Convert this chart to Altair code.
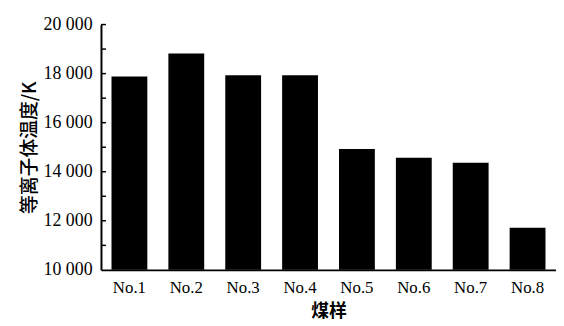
import altair as alt
import pandas as pd

samples = ["No.1", "No.2", "No.3", "No.4", "No.5", "No.6", "No.7", "No.8"]
temps = [17880, 18820, 17930, 17930, 14930, 14570, 14370, 11720]
major_ticks = [10000, 12000, 14000, 16000, 18000, 20000]
all_ticks = [11000, 12000, 13000, 14000, 15000, 16000, 17000, 18000, 19000, 20000]

df = pd.DataFrame({"sample": samples, "temp": temps})
tick_df = pd.DataFrame({"temp": all_ticks})

yscale = alt.Scale(domain=[10000, 20000], nice=False, zero=False)
yaxis = alt.Axis(
    title="等离子体温度/K", values=major_ticks, ticks=False, tickSize=0,
    domainWidth=2, domainColor="black", grid=False,
    labelExpr="replace(format(datum.value, ','), ',', ' ')",
    labelFont="Liberation Serif", labelFontSize=18, labelColor="black",
    labelPadding=9,
    titleFont="Noto Sans CJK SC", titleFontSize=19, titleFontWeight=500,
    titleColor="black", titlePadding=4,
)

bars = alt.Chart(df).mark_bar(color="black").encode(
    x=alt.X(
        "sample:N", sort=samples,
        scale=alt.Scale(paddingInner=0.37, paddingOuter=0.185),
        axis=alt.Axis(
            title="煤样", labelAngle=0, ticks=False, tickSize=0,
            domainWidth=2, domainColor="black",
            labelFont="Liberation Serif", labelFontSize=17, labelColor="black",
            labelPadding=10,
            titleFont="Noto Sans CJK SC", titleFontSize=18, titleFontWeight="bold",
            titleColor="black", titlePadding=7,
        ),
    ),
    y=alt.Y("temp:Q", scale=yscale, axis=yaxis),
    y2=alt.datum(10000),
)

ticks = alt.Chart(tick_df).mark_rule(color="black", strokeWidth=1.5).encode(
    y=alt.Y("temp:Q", scale=yscale, axis=yaxis),
    x=alt.value(0),
    x2=alt.value(5),
)

chart = alt.layer(bars, ticks).properties(
    width=460, height=248,
    padding={"left": 94, "top": 15, "right": 0, "bottom": 55},
    autosize=alt.AutoSizeParams(type="none"),
).configure_view(stroke=None)

chart.save("out.html", embed_options={"renderer": "svg", "actions": False})
